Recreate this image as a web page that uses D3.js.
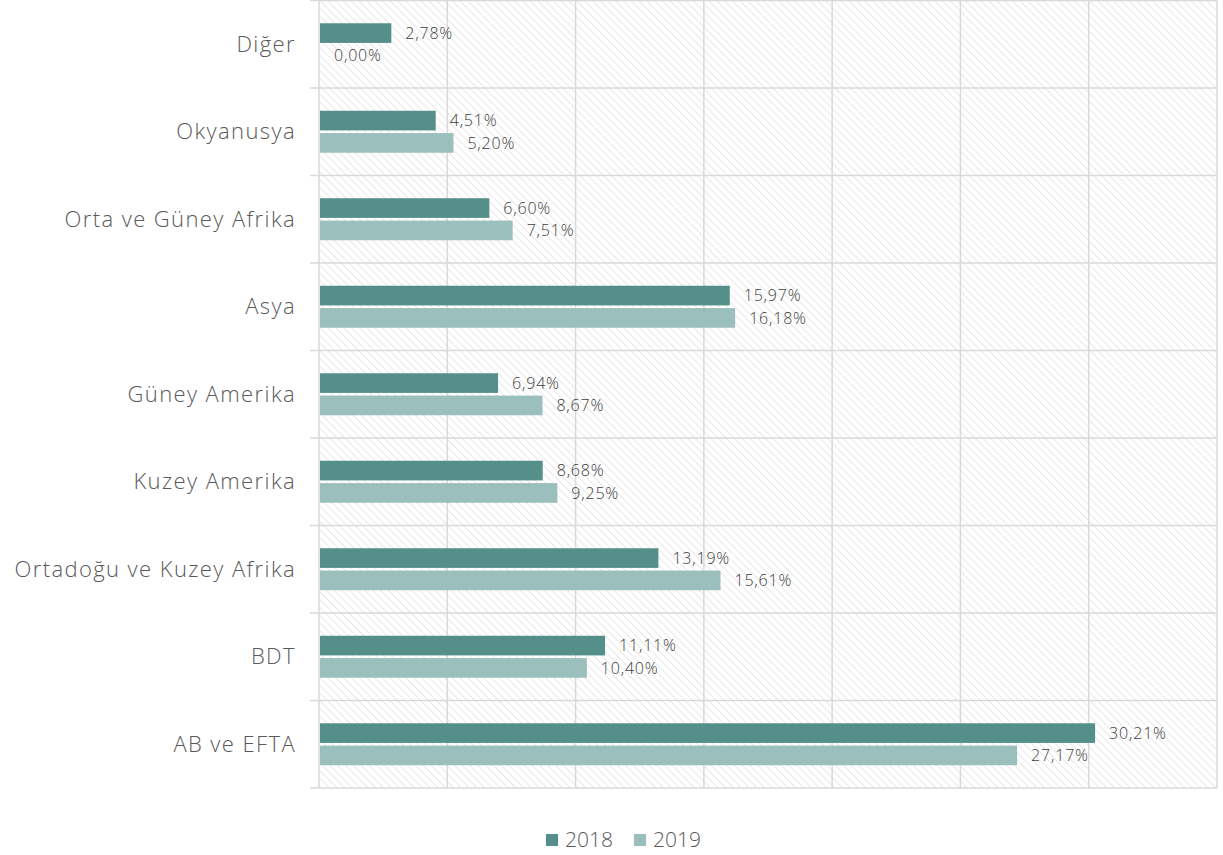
<!DOCTYPE html>
<html>
<head>
<meta charset="utf-8">
<script src="https://cdn.jsdelivr.net/npm/d3@7"></script>
<style>
	body { margin: 0; background: #fff; }
	text { font-family: "Open Sans", Lato, sans-serif; font-weight: 300; }
</style>
</head>
<body>
<div id="chart"></div>
<script>
let categories = ["Diğer", "Okyanusya", "Orta ve Güney Afrika", "Asya", "Güney Amerika",
	"Kuzey Amerika", "Ortadoğu ve Kuzey Afrika", "BDT", "AB ve EFTA"];
let values2018 = [2.78, 4.51, 6.60, 15.97, 6.94, 8.68, 13.19, 11.11, 30.21];
let values2019 = [0.00, 5.20, 7.51, 16.18, 8.67, 9.25, 15.61, 10.40, 27.17];
let seriesNames = ["2018", "2019"];
let xTicks = [0, 5, 10, 15, 20, 25, 30, 35];

let width = 1223, height = 855;
let margin = {top: 0.5, right: 6, bottom: 67, left: 319};
let colors = {"2018": "#558f89", "2019": "#9bbfbc"};

let svg = d3.select("#chart")
	.append("svg")
	.attr("width", width)
	.attr("height", height);

// hatch pattern for the plot background
let defs = svg.append("defs");
defs.append("pattern")
	.attr("id", "hatch")
	.attr("patternUnits", "userSpaceOnUse")
	.attr("width", 5.5)
	.attr("height", 5.5)
	.attr("patternTransform", "rotate(-45)")
	.append("line")
	.attr("x1", 0).attr("y1", 0)
	.attr("x2", 0).attr("y2", 5.5)
	.attr("stroke", "#dcdcdc")
	.attr("stroke-width", 1.3);

let plotW = width - margin.left - margin.right,
	plotH = height - margin.top - margin.bottom;

let g = svg.append("g")
	.attr("transform", "translate(" + margin.left + "," + margin.top + ")");

let xScale = d3.scaleLinear()
	.domain([0, 35])
	.range([0, plotW]);

let yScale = d3.scaleBand()
	.domain(categories)
	.range([0, plotH]);

let inner = d3.scaleBand()
	.domain(seriesNames)
	.range([yScale.bandwidth() / 2 - 21, yScale.bandwidth() / 2 + 21])
	.paddingInner(0.12);

g.append("rect")
	.attr("width", plotW)
	.attr("height", plotH)
	.attr("fill", "url(#hatch)");

// vertical grid lines
g.append("g")
	.selectAll("line")
	.data(xTicks)
	.join("line")
	.attr("x1", d => xScale(d))
	.attr("x2", d => xScale(d))
	.attr("y1", 0)
	.attr("y2", plotH)
	.attr("stroke", "#d9d9d9")
	.attr("stroke-width", 1.5);

// category separators, reaching a bit left of the axis
let seps = d3.range(categories.length + 1).map(i => i * yScale.step());
g.append("g")
	.selectAll("line")
	.data(seps)
	.join("line")
	.attr("x1", -9)
	.attr("x2", plotW)
	.attr("y1", d => d)
	.attr("y2", d => d)
	.attr("stroke", "#d9d9d9")
	.attr("stroke-width", 1.5);

// category labels
g.append("g")
	.selectAll("text")
	.data(categories)
	.join("text")
	.attr("x", -23)
	.attr("y", d => yScale(d) + yScale.bandwidth() / 2)
	.attr("dy", "0.35em")
	.attr("text-anchor", "end")
	.attr("font-size", 22)
	.attr("letter-spacing", 1.4)
	.attr("fill", "#595959")
	.text(d => d);

let rows = [];
categories.forEach(function (c, i) {
	rows.push({cat: c, series: "2018", value: values2018[i]});
	rows.push({cat: c, series: "2019", value: values2019[i]});
});

let fmt = d => d.toFixed(2).replace(".", ",") + "%";

g.append("g")
	.selectAll("rect")
	.data(rows)
	.join("rect")
	.attr("x", 1)
	.attr("y", d => yScale(d.cat) + inner(d.series))
	.attr("width", d => xScale(d.value))
	.attr("height", inner.bandwidth())
	.attr("fill", d => colors[d.series]);

g.append("g")
	.selectAll("text")
	.data(rows)
	.join("text")
	.attr("x", d => xScale(d.value) + 15)
	.attr("y", d => yScale(d.cat) + inner(d.series) + inner.bandwidth() / 2)
	.attr("dy", "0.35em")
	.attr("font-size", 16)
	.attr("letter-spacing", 0.8)
	.attr("fill", "#404040")
	.text(d => fmt(d.value));

// legend
let legend = svg.append("g")
	.attr("transform", "translate(546,840)");
let items = legend.selectAll("g")
	.data(seriesNames)
	.join("g")
	.attr("transform", (d, i) => "translate(" + (i * 88) + ",0)");
items.append("rect")
	.attr("x", 0)
	.attr("y", -6)
	.attr("width", 12)
	.attr("height", 12)
	.attr("fill", d => colors[d]);
items.append("text")
	.attr("x", 19)
	.attr("dy", "0.35em")
	.attr("font-size", 21)
	.attr("fill", "#595959")
	.text(d => d);
</script>
</body>
</html>
